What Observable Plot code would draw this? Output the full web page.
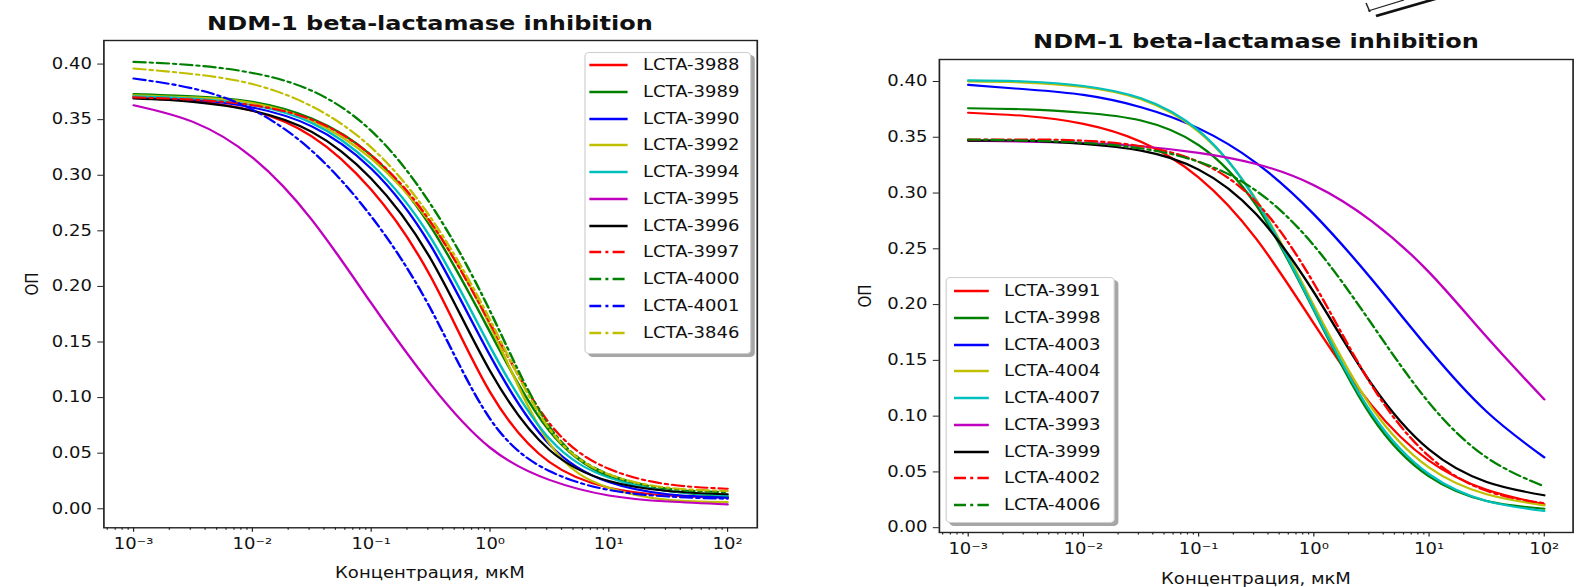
<!DOCTYPE html>
<html><head><meta charset="utf-8">
<script src="https://cdn.jsdelivr.net/npm/d3@7"></script>
<script src="https://cdn.jsdelivr.net/npm/@observablehq/plot@0.6"></script>
<style>
html,body{margin:0;padding:0;background:#fff;}
#wrap{position:absolute;left:0;top:0;height:587px;transform-origin:0 0;font-family:"DejaVu Sans",sans-serif;color:#111;}
.svgbox{position:absolute;top:0;}
.svgbox svg{display:block;overflow:visible;}
.t{position:absolute;white-space:nowrap;line-height:1;}
.title{font-weight:bold;font-size:20px;transform:translate(-50%,-50%);}
.xl{font-size:15px;transform:translate(-50%,-50%);}
.yl{font-size:15px;transform:translate(-50%,-50%) rotate(-90deg);}
.legend{position:absolute;background:#fff;border:1px solid #cfcfcf;border-radius:4px;box-shadow:3px 3px 0 rgba(0,0,0,0.35);}
.lt{position:absolute;font-size:15px;white-space:nowrap;transform:translateY(-50%);line-height:1;}
#deco{position:absolute;left:0;top:0;}
</style>
</head><body>
<div id="wrap"></div>
<script>
// ---------- data ----------
const S = 1.2; // horizontal stretch of the reference image
const concentrations = [0.001, 0.00316, 0.01, 0.0316, 0.1, 0.316, 1, 3.16, 10, 31.6, 100];
const xMajorTicks = [0.001, 0.01, 0.1, 1, 10, 100];
const xTickLabels = ["10⁻³", "10⁻²", "10⁻¹", "10⁰", "10¹", "10²"];
const yTicks = [0, 0.05, 0.10, 0.15, 0.20, 0.25, 0.30, 0.35, 0.40];
const title = "NDM-1 beta-lactamase inhibition";
const xLabel = "Концентрация, мкМ";
const yLabel = "ОП";

// left panel
const leftNames = ["LCTA-3988","LCTA-3989","LCTA-3990","LCTA-3992","LCTA-3994","LCTA-3995","LCTA-3996","LCTA-3997","LCTA-4000","LCTA-4001","LCTA-3846"];
const leftColors = ["#ff0000","#008000","#0000ff","#bfbf00","#00bfbf","#bf00bf","#000000","#ff0000","#008000","#0000ff","#bfbf00"];
const leftDashDot = [false,false,false,false,false,false,false,true,true,true,true];
const lcta3988 = [0.371,0.367,0.358,0.335,0.287,0.209,0.105,0.042,0.019,0.012,0.010];
const lcta3989 = [0.373,0.371,0.366,0.351,0.318,0.254,0.159,0.070,0.029,0.016,0.011];
const lcta3990 = [0.370,0.368,0.361,0.344,0.306,0.237,0.138,0.058,0.024,0.013,0.010];
const lcta3992 = [0.372,0.370,0.365,0.349,0.315,0.257,0.165,0.059,0.019,0.008,0.006];
const lcta3994 = [0.371,0.369,0.363,0.347,0.310,0.244,0.146,0.063,0.028,0.016,0.012];
const lcta3995 = [0.363,0.348,0.316,0.260,0.185,0.112,0.055,0.026,0.012,0.0065,0.004];
const lcta3996 = [0.369,0.366,0.358,0.339,0.297,0.225,0.124,0.053,0.025,0.016,0.013];
const lcta3997 = [0.370,0.368,0.363,0.350,0.318,0.258,0.167,0.077,0.036,0.022,0.018];
const lcta4000 = [0.402,0.399,0.392,0.376,0.340,0.274,0.178,0.074,0.031,0.018,0.015];
const lcta4001 = [0.387,0.378,0.359,0.322,0.263,0.180,0.081,0.034,0.017,0.011,0.009];
const lcta3846 = [0.396,0.391,0.382,0.362,0.325,0.262,0.170,0.072,0.031,0.019,0.016];
const leftValues = [lcta3988,lcta3989,lcta3990,lcta3992,lcta3994,lcta3995,lcta3996,lcta3997,lcta4000,lcta4001,lcta3846];

// right panel
const rightNames = ["LCTA-3991","LCTA-3998","LCTA-4003","LCTA-4004","LCTA-4007","LCTA-3993","LCTA-3999","LCTA-4002","LCTA-4006"];
const rightColors = ["#ff0000","#008000","#0000ff","#bfbf00","#00bfbf","#bf00bf","#000000","#ff0000","#008000"];
const rightDashDot = [false,false,false,false,false,false,false,true,true];
const lcta3991 = [0.372,0.369,0.362,0.346,0.314,0.259,0.183,0.110,0.060,0.034,0.021];
const lcta3998 = [0.376,0.375,0.372,0.365,0.343,0.289,0.195,0.100,0.046,0.024,0.017];
const lcta4003 = [0.397,0.393,0.388,0.377,0.358,0.327,0.281,0.223,0.160,0.104,0.063];
const lcta4004 = [0.400,0.399,0.395,0.384,0.355,0.294,0.199,0.108,0.054,0.030,0.020];
const lcta4007 = [0.401,0.400,0.396,0.385,0.356,0.293,0.196,0.103,0.048,0.024,0.015];
const lcta3993 = [0.347,0.346,0.345,0.342,0.336,0.326,0.307,0.275,0.229,0.171,0.115];
const lcta3999 = [0.347,0.347,0.344,0.338,0.321,0.281,0.211,0.129,0.070,0.041,0.029];
const lcta4002 = [0.348,0.348,0.347,0.342,0.328,0.292,0.219,0.128,0.064,0.033,0.022];
const lcta4006 = [0.348,0.347,0.345,0.340,0.328,0.302,0.253,0.183,0.112,0.063,0.037];
const rightValues = [lcta3991,lcta3998,lcta4003,lcta4004,lcta4007,lcta3993,lcta3999,lcta4002,lcta4006];

// ---------- drawing ----------
const DASH = "10,3.5,2.5,3.5";
const wrap = document.getElementById("wrap");
const Wfull = 1594;
wrap.style.width = (Wfull / S) + "px";
wrap.style.transform = `scaleX(${S})`;
const X = v => v / S;

const minorTicks = [];
for (let e = -4; e <= 2; e++) for (let m = 2; m <= 9; m++) {
  const v = m * Math.pow(10, e);
  if (v > Math.pow(10, -3.25) && v < Math.pow(10, 2.25)) minorTicks.push(v);
}

function makePanel(cfg) {
  const marks = [];
  cfg.values.forEach((vals, i) => {
    const rows = concentrations.map((c, j) => ({x: c, y: vals[j]}));
    marks.push(Plot.line(rows, {
      x: "x", y: "y", stroke: cfg.colors[i], strokeWidth: 2.1,
      strokeDasharray: cfg.dash[i] ? DASH : undefined, curve: "natural"
    }));
  });
  marks.push(Plot.axisY(yTicks, {tickSize: 5, tickPadding: 5, tickFormat: d => d.toFixed(2), label: null, stroke: "#222"}));
  marks.push(Plot.axisX(minorTicks, {tickSize: 2.5, tickFormat: () => "", label: null, stroke: "#222"}));
  marks.push(Plot.axisX(xMajorTicks, {tickSize: 4.5, tickPadding: 6, tickFormat: d => xTickLabels[xMajorTicks.indexOf(d)], label: null, stroke: "#222"}));
  marks.push(Plot.frame({stroke: "#222", strokeWidth: 1.4}));
  const svg = Plot.plot({
    width: cfg.width, height: 587,
    marginLeft: cfg.mL, marginRight: cfg.mR, marginTop: cfg.mT, marginBottom: cfg.mB,
    x: {type: "log", domain: [Math.pow(10, -3.25), Math.pow(10, 2.25)]},
    y: {domain: cfg.yDomain},
    style: {fontFamily: "DejaVu Sans, sans-serif", fontSize: "15px", color: "#111", background: "transparent", overflow: "visible"},
    marks
  });
  const box = document.createElement("div");
  box.className = "svgbox";
  box.style.left = cfg.left + "px";
  box.appendChild(svg);
  wrap.appendChild(box);
}

function addText(cls, txt, xFull, y) {
  const d = document.createElement("div");
  d.className = "t " + cls;
  d.textContent = txt;
  d.style.left = X(xFull) + "px";
  d.style.top = y + "px";
  wrap.appendChild(d);
}

function addLegend(cfg) {
  const lg = document.createElement("div");
  lg.className = "legend";
  lg.style.left = X(cfg.x0) + "px";
  lg.style.top = cfg.y0 + "px";
  lg.style.width = X(cfg.x1 - cfg.x0) + "px";
  lg.style.height = (cfg.y1 - cfg.y0) + "px";
  wrap.appendChild(lg);
  cfg.names.forEach((n, i) => {
    const y = cfg.first + i * cfg.step;
    const s = document.createElementNS("http://www.w3.org/2000/svg", "svg");
    s.setAttribute("width", X(cfg.h1 - cfg.h0));
    s.setAttribute("height", 6);
    s.style.position = "absolute";
    s.style.left = X(cfg.h0) + "px";
    s.style.top = (y - 3) + "px";
    const l = document.createElementNS("http://www.w3.org/2000/svg", "line");
    l.setAttribute("x1", 0); l.setAttribute("x2", X(cfg.h1 - cfg.h0));
    l.setAttribute("y1", 3); l.setAttribute("y2", 3);
    l.setAttribute("stroke", cfg.colors[i]); l.setAttribute("stroke-width", 2.3);
    if (cfg.dash[i]) l.setAttribute("stroke-dasharray", DASH);
    s.appendChild(l);
    wrap.appendChild(s);
    const t = document.createElement("div");
    t.className = "lt";
    t.textContent = n;
    t.style.left = X(cfg.tx) + "px";
    t.style.top = y + "px";
    wrap.appendChild(t);
  });
}

// left panel: frame x 103.3..756.7, y 40..527.3
makePanel({left: 0, width: X(797), mL: X(103.3), mR: X(797 - 756.7), mT: 40, mB: 587 - 527.3,
  yDomain: [-0.0171, 0.4212], values: leftValues, colors: leftColors, dash: leftDashDot});
// right panel: frame x 939..1572.7, y 59..532
makePanel({left: X(797), width: X(797), mL: X(939 - 797), mR: X(1594 - 1572.7), mT: 59, mB: 587 - 532,
  yDomain: [-0.0043, 0.4197], values: rightValues, colors: rightColors, dash: rightDashDot});

addText("title", title, 430, 22.5);
addText("title", title, 1256, 40.5);
addText("xl", xLabel, 430, 573);
addText("xl", xLabel, 1256, 579);
addText("yl", yLabel, 32, 284);
addText("yl", yLabel, 865, 296);

addLegend({x0: 584, x1: 749, y0: 52, y1: 352, first: 65, step: 26.75, h0: 589, h1: 628, tx: 643,
  names: leftNames, colors: leftColors, dash: leftDashDot});
addLegend({x0: 946, x1: 1112, y0: 277, y1: 521, first: 291, step: 26.75, h0: 954, h1: 989, tx: 1004,
  names: rightNames, colors: rightColors, dash: rightDashDot});

// decorative scan artefact at the top of the right panel (part of the source image)
const deco = document.createElementNS("http://www.w3.org/2000/svg", "svg");
deco.setAttribute("id", "deco");
deco.setAttribute("width", X(1594)); deco.setAttribute("height", 40);
deco.innerHTML = `
  <line x1="${X(1376)}" y1="16" x2="${X(1442)}" y2="-3" stroke="#111" stroke-width="2.6"/>
  <line x1="${X(1368)}" y1="11" x2="${X(1404)}" y2="0" stroke="#222" stroke-width="1.2"/>
  <line x1="${X(1366)}" y1="3" x2="${X(1370)}" y2="12" stroke="#222" stroke-width="1.2"/>`;
wrap.appendChild(deco);
</script>
</body></html>
